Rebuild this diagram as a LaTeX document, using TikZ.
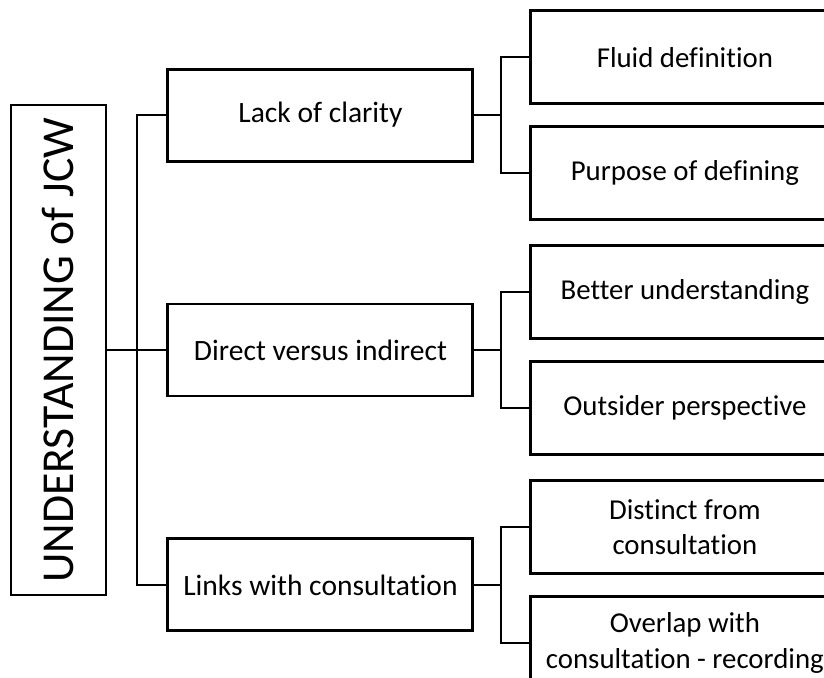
\documentclass[tikz,border=0pt]{standalone}
\usepackage{fontspec}
\setmainfont{Carlito}[Ligatures=NoCommon]
\usepackage{graphicx}
\usetikzlibrary{positioning}

\begin{document}
\begin{tikzpicture}[node distance=1.475cm,
      box/.style={rectangle,draw,line width=2.1pt,align=center,
        font=\fontsize{21}{25}\selectfont},
      root node/.style={box,minimum width=2.375cm,minimum height=12.25cm,
        font=\fontsize{32.5}{36}\selectfont},
      topic node/.style={box,minimum width=7.625cm,minimum height=2.3cm},
      leaf node/.style={box,minimum width=7.7cm,minimum height=2.325cm,
        font=\fontsize{20.5}{25}\selectfont},
      link/.style={line width=1.4pt}]
      \useasboundingbox (-1.4625,-8.2) rectangle (19.1375,8.75);

      \node[root node] (root) {\rotatebox{90}{UNDERSTANDING of JCW}};
      \node[topic node] (direct) [right=of root] {Direct versus indirect};
      \node[topic node] (lack) [above=3.5cm of direct] {Lack of clarity};
      \node[topic node] (links) [below=3.5cm of direct] {Links with consultation};

      \node[leaf node] (fluid) [right=of lack,yshift=1.44cm,xshift=-0.1cm] {Fluid definition};
      \node[leaf node] (purpose) [right=of lack,yshift=-1.46cm,xshift=-0.1cm] {Purpose of defining};
      \node[leaf node] (better) [right=of direct,yshift=1.46cm,xshift=-0.1cm] {Better understanding};
      \node[leaf node] (outsider) [right=of direct,yshift=-1.44cm,xshift=-0.1cm] {Outsider perspective};
      \node[leaf node] (distinct) [right=of links,yshift=1.45cm,xshift=-0.1cm] {Distinct from\\consultation};
      \node[leaf node] (overlap) [right=of links,yshift=-1.45cm,xshift=-0.1cm] {Overlap with\\consultation - recording};

      \draw[link] (root.east) -- (direct.west);
      \draw[link] (lack.west) -- ++(-0.74,0) |- (links.west);

      \foreach \t/\a/\b in {lack/fluid/purpose,direct/better/outsider,links/distinct/overlap}{
        \draw[link] (\t.east) -- ++(0.7,0);
        \draw[link] (\a.west) -- ++(-0.7,0) |- (\b.west);
      }
    \end{tikzpicture}
\end{document}
